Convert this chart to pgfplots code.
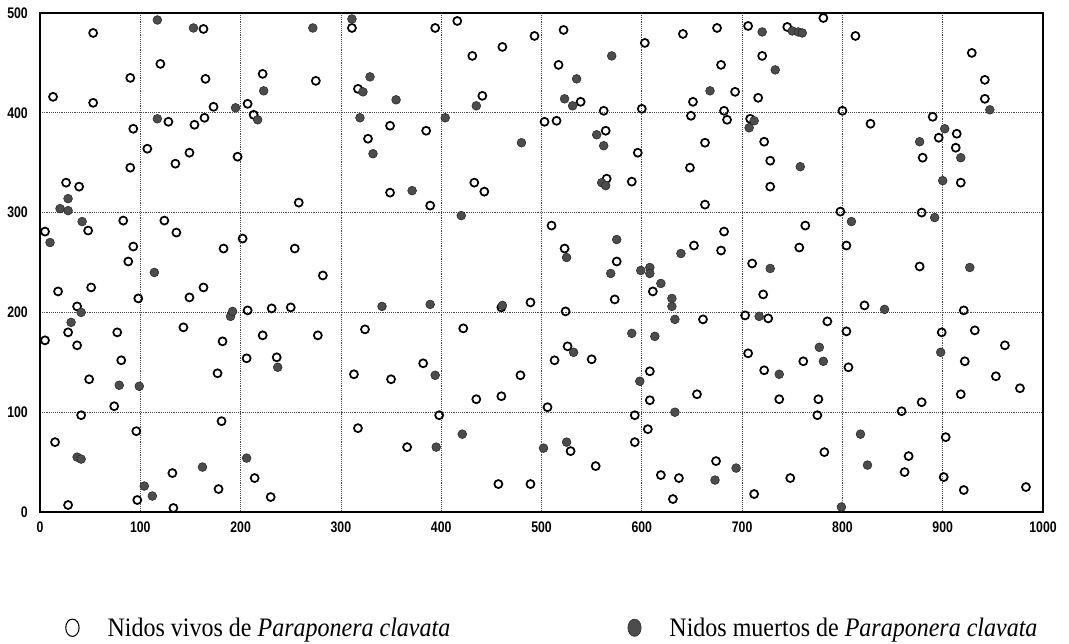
\documentclass[border=0pt]{standalone}
\usepackage{fontspec}
\setmainfont{Liberation Serif}
\newfontfamily\tickfont[FakeStretch=0.8]{Liberation Sans}
\newfontfamily\legfont[FakeStretch=0.9]{Liberation Serif}
\usepackage{pgfplots}
\pgfplotsset{compat=1.18}
\definecolor{deadfill}{gray}{0.30}
\begin{document}
\begin{tikzpicture}
\begin{axis}[name=ax, scale only axis, width=752.25pt, height=374.25pt,
 xmin=0, xmax=1000, ymin=0, ymax=500,
 xtick={0,100,...,1000}, ytick={0,100,...,500},
 grid=major, grid style={densely dotted, black!70, line width=0.6pt},
 major tick length=0pt,
 axis line style={line width=1.5pt},
 tick label style={font=\tickfont\bfseries\fontsize{11.5}{13}\selectfont, inner sep=0pt},
 /pgf/number format/assume math mode=true,
 /pgf/number format/set thousands separator={},
 xticklabel style={yshift=-7pt},
 yticklabel style={xshift=-9pt},
 legend style={at={(0.0209,-0.232)}, anchor=west, draw=none, fill=none,
   font=\legfont\fontsize{20}{24}\selectfont, nodes={inner sep=0pt},
   /tikz/every odd column/.append style={column sep=21pt},
   /tikz/every even column/.append style={column sep=133pt}},
 legend columns=2,
 legend cell align=left,
 clip=false]
\addplot[only marks, mark=o, mark size=3.0pt, mark options={draw=black, line width=1.3pt},
 legend image code/.code={\draw[black, line width=0.8pt] (5pt,0pt) ellipse[x radius=5pt, y radius=6.5pt];}]
coordinates {
(53,480)(120,449)(90,435)(165,434)(163,484)(222,439)(13,416)(53,410)(207,409)(213,398)
(173,406)(164,395)(154,388)(128,391)(93,384)(107,364)(149,360)(135,349)(197,356)(90,345)
(26,330)(39,326)(83,292)(124,292)(136,280)(48,282)(5,281)(202,274)(183,264)(93,266)(88,251)
(311,485)(394,485)(416,492)(431,457)(461,466)(493,477)(275,432)(317,424)(441,417)(349,387)
(385,382)(327,374)(433,330)(443,321)(349,320)(389,307)(258,310)(254,264)
(522,483)(517,448)(539,411)(503,391)(515,392)(562,402)(564,382)(603,470)(600,404)(596,360)
(565,334)(590,331)(510,287)(523,264)(575,251)(641,479)(675,485)(679,448)(693,421)(651,411)
(649,397)(682,402)(685,393)(663,370)(648,345)(663,308)(682,281)(652,267)(679,262)(706,487)
(720,457)(716,415)(708,394)(722,371)(728,352)(728,326)(710,249)
(781,495)(745,486)(813,477)(800,402)(828,389)(798,301)(763,287)(804,267)(757,265)(929,460)
(942,433)(942,414)(890,396)(896,375)(914,379)(913,365)(880,355)(918,330)(879,300)
(18,221)(51,225)(98,214)(149,215)(163,225)(37,206)(28,180)(37,167)(5,172)(77,180)
(81,152)(49,133)(74,106)(41,97)(143,185)(182,171)(177,139)(181,91)(207,202)(231,204)
(250,205)(222,177)(206,154)(236,155)(96,81)(15,70)(132,39)(178,23)(214,34)(230,15)
(97,12)(28,7)(133,4)
(282,237)(277,177)(324,183)(313,138)(350,133)(382,149)(422,184)(479,137)(460,116)(435,113)
(398,97)(317,84)(366,65)(457,28)(489,28)(489,210)(460,205)
(573,213)(524,201)(611,221)(661,193)(721,218)(703,197)(726,194)(526,166)(513,152)(550,153)
(608,141)(655,118)(608,112)(506,105)(593,97)(606,83)(593,70)(529,61)(554,46)(619,37)
(637,34)(674,51)(631,13)(712,18)(706,159)(722,142)
(785,191)(877,246)(822,207)(804,181)(806,145)(761,151)(737,113)(776,113)(775,97)(921,202)
(932,182)(962,167)(899,180)(922,151)(953,136)(977,124)(918,118)(879,110)(859,101)(903,75)
(866,56)(862,40)(901,35)(921,22)(983,25)(782,60)(748,34)
};
\addlegendentry{Nidos vivos de \textit{Paraponera clavata}}
\addplot[only marks, mark=*, mark size=3.3pt, mark options={draw=black!85, fill=deadfill, line width=0.4pt},
 legend image code/.code={\draw[black!85, fill=deadfill, line width=0.4pt] (5pt,0pt) ellipse[x radius=5pt, y radius=6.5pt];}]
coordinates {
(117,493)(153,485)(223,422)(195,405)(117,394)(217,393)(28,314)(20,304)(28,302)(42,291)(10,270)
(311,494)(272,485)(329,436)(322,421)(355,413)(319,395)(332,359)(371,322)(404,395)(435,407)
(480,370)(420,297)
(570,457)(535,434)(523,414)(531,407)(555,378)(562,367)(560,330)(564,327)(575,273)(525,255)
(639,259)(668,422)(720,481)(712,392)(707,385)
(750,482)(756,481)(760,480)(733,443)(758,346)(947,403)(902,384)(877,371)(918,355)(900,332)
(809,291)(892,295)
(114,240)(190,196)(192,201)(41,200)(31,190)(79,127)(99,126)(37,55)(41,53)(162,45)
(206,54)(237,145)(104,26)(112,16)
(341,206)(389,208)(461,207)(394,137)(421,78)(395,65)
(569,239)(599,242)(608,245)(608,239)(619,229)(630,214)(630,206)(633,193)(590,179)(613,176)
(532,160)(598,131)(633,100)(502,64)(525,70)(694,44)(673,32)(717,196)(728,244)
(842,203)(777,165)(781,151)(737,138)(898,160)(927,245)(818,78)(825,47)(799,5)
};
\addlegendentry{Nidos muertos de \textit{Paraponera clavata}}
\end{axis}
\path ([xshift=-30pt,yshift=-99pt]ax.south west) rectangle ([xshift=19.5pt,yshift=9.75pt]ax.north east);
\end{tikzpicture}
\end{document}
